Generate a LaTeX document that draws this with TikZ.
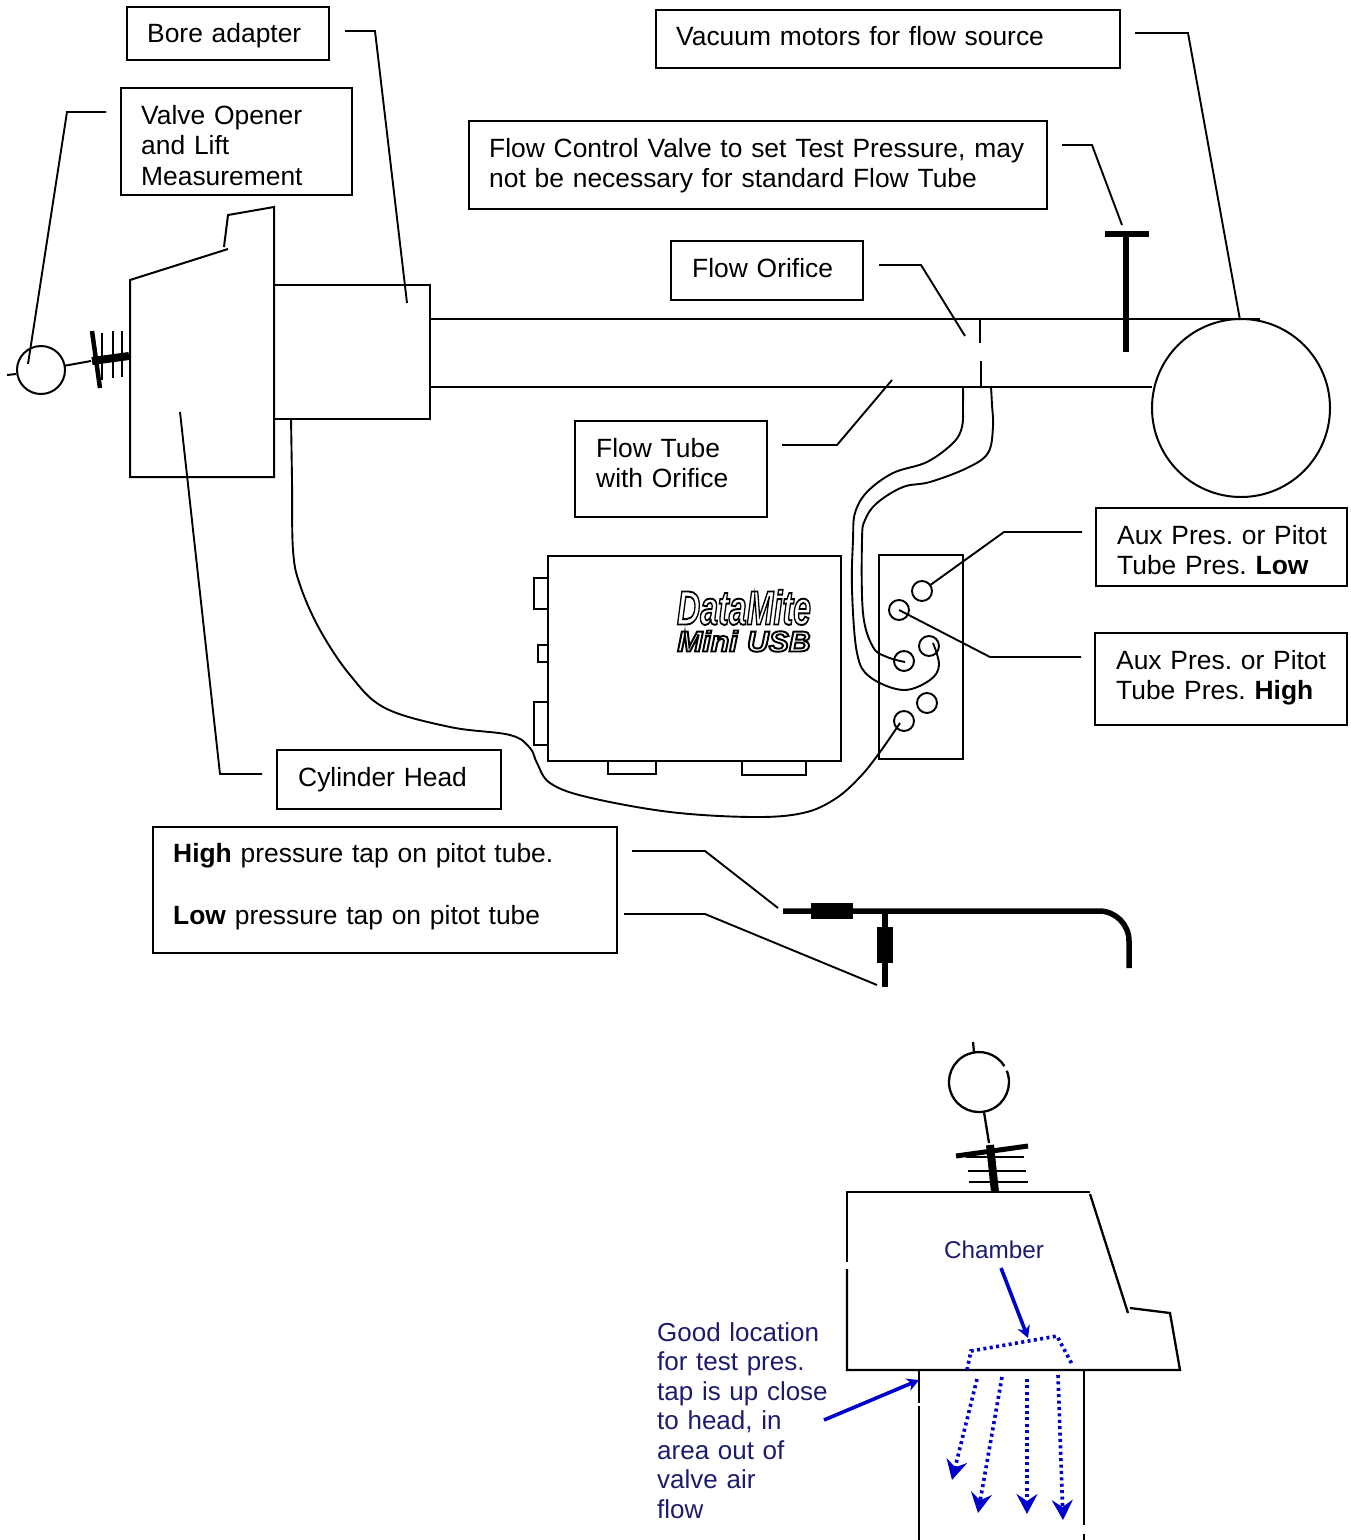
\documentclass[tikz,border=0pt]{standalone}
\usepackage{fontspec}
\setmainfont{Liberation Sans}
\usetikzlibrary{arrows.meta}
\frenchspacing
\definecolor{tapblue}{RGB}{0,0,205}
\definecolor{notenavy}{RGB}{28,28,110}
\newcommand{\outlined}[3]{\scalebox{#1}[1]{\fontsize{#2}{#2}\selectfont\bfseries\itshape
  \special{pdf:code 1 Tr 1.9 w}#3\special{pdf:code 0 Tr}}}
\tikzset{
  lblbox/.style={draw,line width=1.9pt,anchor=north west,inner sep=0pt,outer sep=0pt,fill=white},
  lbltext/.style={anchor=base west,inner sep=0pt,align=left,font=\fontsize{26.4}{30.8}\selectfont},
  leader/.style={line width=1.9pt,line join=miter},
  part/.style={line width=2pt},
  hose/.style={line width=1.9pt},
  port/.style={circle,draw,line width=1.9pt,minimum size=20pt,inner sep=0pt,outer sep=0pt},
  thickp/.style={line width=5.5pt},
  note/.style={text=notenavy,font=\fontsize{26}{29.5}\selectfont,inner sep=0pt},
  bluearrow/.style={draw=tapblue,line width=3.6pt,-{Stealth[length=12pt,width=13pt]}},
  flowdots/.style={draw=tapblue,line width=3.6pt,dash pattern=on 3pt off 3.4pt},
  flowarrow/.style={flowdots,-{Stealth[length=20pt,width=21pt,inset=7pt]}}
}
\begin{document}
\begin{tikzpicture}[x=1pt,y=-1pt]
\useasboundingbox (0,0) rectangle (1351,1540);
% ---------- label boxes
\node[lblbox,minimum width=202pt,minimum height=53pt] (boreBox) at (127,7) {};
\node[lbltext,text width=180pt] (boreText) at (147,42) {Bore adapter};
\node[lblbox,minimum width=231pt,minimum height=107pt] (valveBox) at (121,88) {};
\node[lbltext,text width=205pt] (valveText) at (141,124) {Valve Opener\\and Lift\\Measurement};
\node[lblbox,minimum width=464pt,minimum height=58pt] (vacBox) at (656,10) {};
\node[lbltext,text width=440pt] (vacText) at (676,45) {Vacuum motors for flow source};
\node[lblbox,minimum width=578pt,minimum height=88pt] (ctrlBox) at (469,121) {};
\node[lbltext,text width=550pt] (ctrlText) at (489,157) {Flow Control Valve to set Test Pressure, may\\not be necessary for standard Flow Tube};
\node[lblbox,minimum width=192pt,minimum height=59pt] (orifBox) at (671,241) {};
\node[lbltext,text width=170pt] (orifText) at (692,277) {Flow Orifice};
\node[lblbox,minimum width=192pt,minimum height=96pt] (tubeBox) at (575,421) {};
\node[lbltext,text width=170pt] (tubeText) at (596,457) {Flow Tube\\with Orifice};
\node[lblbox,minimum width=251pt,minimum height=78pt] (lowBox) at (1096,508) {};
\node[lbltext,text width=228pt] (lowText) at (1117,544) {Aux Pres. or Pitot\\Tube Pres. \textbf{Low}};
\node[lblbox,minimum width=252pt,minimum height=92pt] (highBox) at (1095,633) {};
\node[lbltext,text width=228pt] (highText) at (1116,669) {Aux Pres. or Pitot\\Tube Pres. \textbf{High}};
\node[lblbox,minimum width=224pt,minimum height=59pt] (cylBox) at (277,750) {};
\node[lbltext,text width=200pt] (cylText) at (298,786) {Cylinder Head};
\node[lblbox,minimum width=464pt,minimum height=126pt] (pitotBox) at (153,827) {};
\node[lbltext,text width=440pt] (pitotText) at (173,862) {\textbf{High} pressure tap on pitot tube.\\[31.5pt]\textbf{Low} pressure tap on pitot tube};
% ---------- head, adapter, tube, blower
\draw[part] (228,249) -- (130,280) -- (130,477) -- (274,477) -- (274,207) -- (228,215) -- (224,247);
\node[draw,line width=2pt,minimum width=156pt,minimum height=134pt,anchor=north west,inner sep=0pt,outer sep=0pt] (adapter) at (274,285) {};
\node[circle,draw,line width=2pt,minimum size=178pt,inner sep=0pt,outer sep=0pt] (blower) at (1241,408) {};
\coordinate (tubeTopA) at (431,319);
\coordinate (tubeTopB) at (1260,319);
\coordinate (tubeBotA) at (431,387);
\draw[part] (tubeTopA) -- (tubeTopB);
\draw[part] (tubeBotA) -- (blower.west |- tubeBotA);
\draw[part] (980,320) -- (980,343);
\draw[part] (981,361) -- (981,387);
\draw[thickp] (1126,232) -- (1126,352);
\draw[line width=6pt] (1105,234) -- (1149,234);
% ---------- valve opener
\node[circle,draw,line width=2pt,minimum size=48pt,inner sep=0pt,outer sep=0pt] (gaugeA) at (41,370) {};
\draw[part] (7,375) -- (16,374);
\draw[part] (gaugeA) -- (91,361);
\draw[line width=8pt] (92,361) -- (129,356);
\draw[line width=4.5pt] (92,331) -- (100,388);
\draw[line width=2pt] (102,333) -- (102,380);
\draw[line width=2pt] (113,331) -- (113,378);
\draw[line width=2pt] (122,331) -- (122,377);
% ---------- DataMite
\node[draw,line width=2.2pt,fill=white,minimum width=293pt,minimum height=205pt,anchor=north west,inner sep=0pt,outer sep=0pt] (dm) at (548,556) {};
\foreach \xa/\ya/\xb/\yb in {534/578/548/609,538/645/548/662,534/702/548/745,608/761/656/774,742/761/806/775}
  \draw[line width=2pt] (\xa,\ya) rectangle (\xb,\yb);
\node[inner sep=0pt,anchor=base,text width=180pt,align=center,font=\fontsize{27}{27}\selectfont] (dmName) at (744,624.5) {\outlined{0.67}{48}{DataMite}\\\outlined{1.04}{29}{Mini USB}};
% ---------- port block
\node[draw,line width=2pt,minimum width=84pt,minimum height=204pt,anchor=north west,inner sep=0pt,outer sep=0pt] (block) at (879,555) {};
\node[port] (p1) at (922,591) {};
\node[port] (p2) at (899,610) {};
\node[port] (p3) at (929,646) {};
\node[port] (p4) at (904,661) {};
\node[port] (p5) at (927,703) {};
\node[port] (p6) at (904,721) {};
% ---------- hoses
\draw[hose] plot[smooth,tension=.6] coordinates {(963,386) (963,405) (962,427) (953,443) (927,462) (893,473) (867,492) (855,513) (853,540) (852,590) (857,653) (870,677) (903,690) (930,680) (939,665) (933,643)};
\draw[hose] plot[smooth,tension=.6] coordinates {(991,386) (992,405) (993,427) (988,453) (967,468) (930,482) (903,487) (877,503) (865,520) (862,540) (863,613) (873,647) (887,657) (905,662)};
\draw[hose] plot[smooth,tension=.6] coordinates {(291,418) (292,480) (293,550) (300,585) (320,630) (350,675) (385,708) (450,727) (510,735) (530,748) (537,763) (550,783) (587,797) (670,812) (753,817) (803,813) (835,799) (860,777) (880,752) (900,723)};
% ---------- leaders
\draw[leader] (345,31) coordinate (boreA) -- (375,31) -- (407,303) coordinate (boreB);
\draw[leader] (106,112) coordinate (valveA) -- (67,112) -- (28,364) coordinate (valveB);
\draw[leader] (1135,33) coordinate (vacA) -- (1188,33) -- (1240,320) coordinate (vacB);
\draw[leader] (1062,145) coordinate (ctrlA) -- (1092,145) -- (1122,225) coordinate (ctrlB);
\draw[leader] (879,265) coordinate (orifA) -- (921,265) -- (965,336) coordinate (orifB);
\draw[leader] (782,445) coordinate (tubeA) -- (837,445) -- (892,380) coordinate (tubeB);
\draw[leader] (1082,532) coordinate (lowA) -- (1004,532) -- (p1);
\draw[leader] (1081,657) coordinate (highA) -- (990,657) -- (p2.center);
\draw[leader] (262,774) coordinate (cylA) -- (220,774) -- (180,412) coordinate (cylB);
\draw[leader] (632,851) coordinate (hiA) -- (705,851) -- (778,908) coordinate (hiB);
\draw[leader] (624,914) coordinate (loA) -- (705,914) -- (877,985) coordinate (loB);
% ---------- pitot tube
\draw[thickp,rounded corners=30pt] (783,911) -- (1129,911) -- (1129,968);
\draw[thickp] (885,911) -- (885,987);
\node[fill=black,minimum width=42pt,minimum height=16pt,inner sep=0pt,outer sep=0pt] (tapHigh) at (832,911) {};
\node[fill=black,minimum width=16pt,minimum height=36pt,inner sep=0pt,outer sep=0pt] (tapLow) at (885,945) {};
% ---------- lower figure
\draw[line width=2.3pt] (1006.8,1070.8) arc[start angle=-22,end angle=328,radius=30];
\draw[line width=2.3pt] (973,1042) -- (974,1052);
\draw[line width=2.3pt] (984,1112) -- (989,1143);
\draw[line width=8pt] (990,1145) -- (995,1192);
\draw[line width=5pt] (956,1156) -- (1028,1146);
\draw[line width=2pt] (966,1157) -- (1024,1157);
\draw[line width=2pt] (968,1171) -- (1026,1171);
\draw[line width=2pt] (969,1182) -- (1028,1182);
\draw[line width=2.3pt] (847,1262) -- (847,1192) -- (1090,1192);
\draw[line width=2.3pt] (847,1269) -- (847,1370) -- (1180,1370) -- (1170,1313) -- (1130,1308);
\draw[line width=2.3pt] (1090,1194) -- (1128,1313);
\draw[line width=2.3pt] (919,1370) -- (919,1403);
\draw[line width=2.3pt] (919,1406) -- (919,1540);
\draw[line width=2.3pt] (1084,1370) -- (1084,1525);
\draw[line width=2.3pt] (1084,1534) -- (1084,1540);
\node[note,font=\fontsize{24.3}{28}\selectfont] (chamber) at (994,1250) {Chamber};
\node[note,anchor=base west,text width=175pt,align=left] (good) at (657,1341) {Good location\\for test pres.\\tap is up close\\to head, in\\area out of\\valve air\\flow};
\coordinate (chamberTip) at (1028,1338);
\coordinate (tapTip) at (919,1380);
\draw[bluearrow] (1001,1268) -- (chamberTip);
\draw[bluearrow] (824,1420) -- (tapTip);
\draw[flowdots] (967,1370) -- (971,1351) -- (1057,1336) -- (1073,1366);
\draw[flowarrow] (977,1379) -- (952,1480);
\draw[flowarrow] (1002,1377) -- (978,1513);
\draw[flowarrow] (1027,1379) -- (1027,1514);
\draw[flowarrow] (1058,1375) -- (1063,1520);
\end{tikzpicture}
\end{document}
